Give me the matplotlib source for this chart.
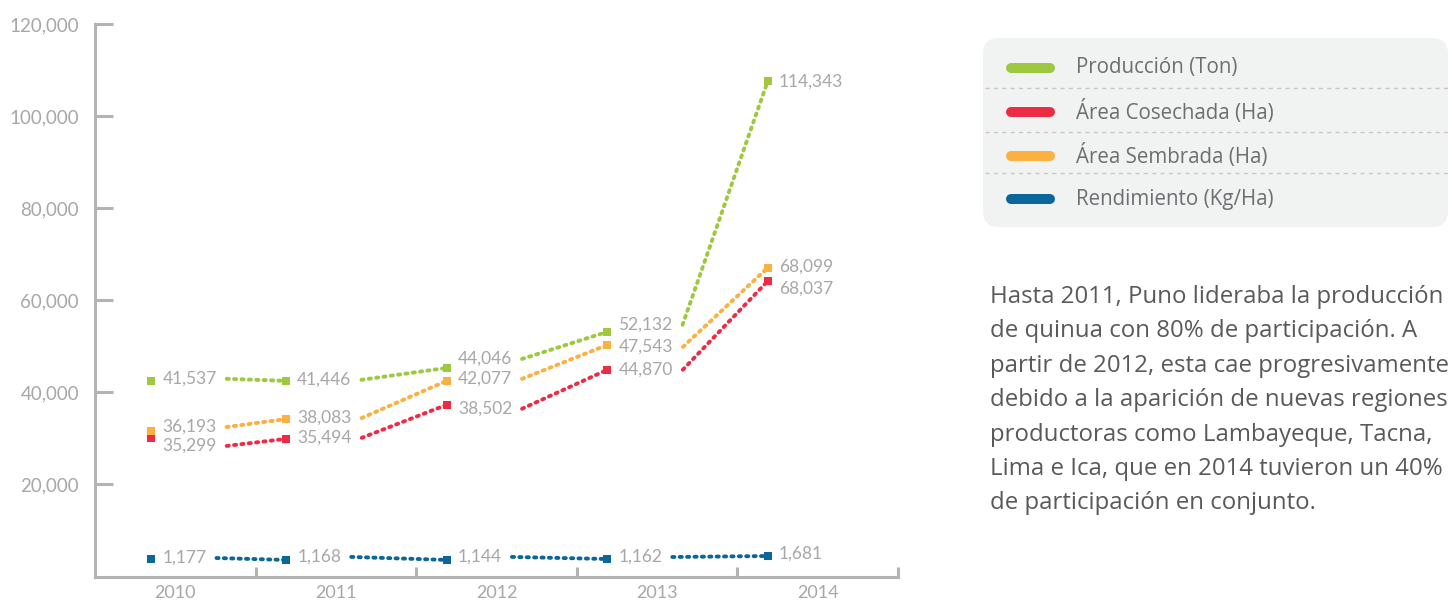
import matplotlib
matplotlib.use('Agg')
import matplotlib.pyplot as plt
import numpy as np
from matplotlib.patches import FancyBboxPatch

plt.rcParams['font.family'] = ['Lato', 'DejaVu Sans']

years = [2010, 2011, 2012, 2013, 2014]

# values printed next to each point
produccion_lbl = [41537, 41446, 44046, 52132, 114343]
cosechada_lbl = [35299, 35494, 38502, 44870, 68037]
sembrada_lbl = [36193, 38083, 42077, 47543, 68099]
rendimiento_lbl = [1177, 1168, 1144, 1162, 1681]

# height at which the original draws each point
produccion = [42500, 42500, 45300, 53150, 107700]
cosechada = [30100, 29900, 37300, 44900, 64200]
sembrada = [31600, 34200, 42500, 50300, 67100]
rendimiento = [3800, 3600, 3600, 3800, 4450]

names = ['Producción (Ton)', 'Área Cosechada (Ha)', 'Área Sembrada (Ha)', 'Rendimiento (Kg/Ha)']
colors = ['#9dc83f', '#ec2c45', '#fbb03f', '#0b679b']

texto = ['Hasta 2011, Puno lideraba la producción',
         'de quinua con 80% de participación. A',
         'partir de 2012, esta cae progresivamente',
         'debido a la aparición de nuevas regiones',
         'productoras como Lambayeque, Tacna,',
         'Lima e Ica, que en 2014 tuvieron un 40%',
         'de participación en conjunto.']

# vertical nudge of each value label (px, downwards) so labels don't collide
lbl_dy = [[-4, -3, -11, -9, -1],
          [6, -3, 2, -2, 6],
          [-6, -3, -4, 0, -3],
          [-3, -5, -5, -4, -4]]

W, H = 1452, 601
axis_c = '#b3b3b3'
lbl_c = '#a7a7a7'

fig = plt.figure(figsize=(W / 100, H / 100), dpi=100)
ax = fig.add_axes([95 / W, 1 - 576.5 / H, (898 - 95) / W, (576.5 - 24) / H])

# markers sit left of the year centre, the first one a bit less
x_mark = np.array(years, dtype=float) - 0.31
x_mark[0] = years[0] - 0.15

series = [(produccion, produccion_lbl), (cosechada, cosechada_lbl),
          (sembrada, sembrada_lbl), (rendimiento, rendimiento_lbl)]

all_texts = []
for k, (vals, lbls) in enumerate(series):
    txts = []
    for i in range(len(years)):
        t = ax.annotate(f'{lbls[i]:,}', xy=(x_mark[i], vals[i]),
                        xytext=(8, -(lbl_dy[k][i] + 2) * 0.72), textcoords='offset points',
                        ha='left', va='center', fontsize=12.5, color=lbl_c, annotation_clip=False)
        txts.append(t)
    all_texts.append(txts)
    ax.plot(x_mark, vals, ls='none', marker='s', ms=6, mew=0, color=colors[k],
            zorder=5, clip_on=False)

ax.set_xlim(2009.5, 2014.5)
ax.set_ylim(0, 120000)
yt = list(range(20000, 120001, 20000))
ax.set_yticks(yt)
ax.set_yticklabels([f'{v:,}' for v in yt])
ax.tick_params(axis='y', direction='in', length=13, width=2.2, color=axis_c,
               pad=11.5, labelsize=13.5, labelcolor=lbl_c)
ax.set_xticks(np.arange(years[0] + 0.5, years[-1] + 0.6, 1))
ax.set_xticklabels([])
ax.tick_params(axis='x', which='major', direction='in', length=7, width=2.2, color=axis_c)
ax.set_xticks(years, minor=True)
ax.set_xticklabels([str(y) for y in years], minor=True)
ax.tick_params(axis='x', which='minor', length=0, pad=6, labelsize=13, labelcolor=lbl_c)
for s in ['top', 'right']:
    ax.spines[s].set_visible(False)
for s in ['left', 'bottom']:
    ax.spines[s].set_color(axis_c)
    ax.spines[s].set_linewidth(2.2)
ax.patch.set_alpha(0)

# dotted segments start just right of the previous label and end on the next marker
fig.canvas.draw()
renderer = fig.canvas.get_renderer()
inv = ax.transData.inverted()
for k, (vals, lbls) in enumerate(series):
    for i in range(len(years) - 1):
        bb = all_texts[k][i].get_window_extent(renderer)
        x0, y0 = inv.transform((bb.x1 + 10, (bb.y0 + bb.y1) / 2))
        ax.plot([x0, x_mark[i + 1]], [y0, vals[i + 1]], color=colors[k], lw=2.8,
                ls=(0, (0.55, 1.35)), dash_capstyle='round', clip_on=False, zorder=4)

# legend box and side text, drawn in pixel coordinates
ov = fig.add_axes([0, 0, 1, 1], zorder=-1)
ov.set_xlim(0, W)
ov.set_ylim(H, 0)
ov.axis('off')
ov.add_patch(FancyBboxPatch((983, 38), 465, 189, boxstyle='round,pad=0,rounding_size=16',
                            fc='#f1f2f2', ec='none'))
rows_y = [68, 112, 156, 199]
for y in [88, 132, 173]:
    ov.plot([985, 1448], [y, y], color='#c8c8c8', lw=1, ls=(0, (3, 3)))
for k, name in enumerate(names):
    ov.plot([1011, 1050], [rows_y[k], rows_y[k]], color=colors[k], lw=7.2,
            solid_capstyle='round')
    ov.text(1076, rows_y[k], name, ha='left', va='center', fontsize=14.8,
            color='#6d6e71', family=['Open Sans', 'DejaVu Sans'])

for j, line in enumerate(texto):
    ov.text(990, 297 + j * 34.4, line, ha='left', va='center', fontsize=17.3,
            color='#58595b', family=['Open Sans', 'DejaVu Sans'])

fig.savefig('out.png', dpi=100)
